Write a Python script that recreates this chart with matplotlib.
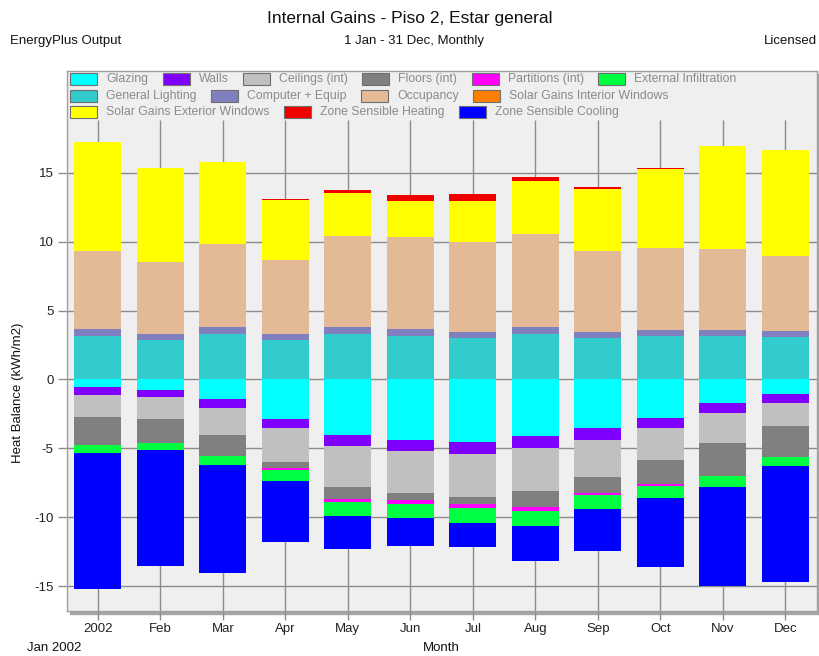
import matplotlib
matplotlib.use("Agg")
import matplotlib.pyplot as plt
from matplotlib.patches import Rectangle
import numpy as np

plt.rcParams['font.family'] = ['Liberation Sans', 'DejaVu Sans']

# ---- data (kWh/m2 per month) ----
months = ["2002", "Feb", "Mar", "Apr", "May", "Jun",
          "Jul", "Aug", "Sep", "Oct", "Nov", "Dec"]

glazing      = [-0.57, -0.76, -1.43, -2.86, -4.05, -4.36, -4.55, -4.09, -3.54, -2.77, -1.68, -1.07]
walls        = [-0.57, -0.49, -0.64, -0.68, -0.79, -0.82, -0.85, -0.87, -0.84, -0.77, -0.73, -0.66]
ceilings     = [-1.56, -1.59, -1.95, -2.44, -2.93, -3.07, -3.14, -3.10, -2.71, -2.29, -2.21, -1.64]
floors       = [-2.05, -1.78, -1.52, -0.41, -0.87, -0.51, -0.50, -1.16, -1.11, -1.77, -2.37, -2.27]
partitions   = [0.0, 0.0, 0.0, -0.15, -0.24, -0.26, -0.27, -0.29, -0.17, -0.12, 0.0, 0.0]
infiltration = [-0.58, -0.51, -0.68, -0.82, -0.99, -1.04, -1.11, -1.08, -0.99, -0.87, -0.78, -0.65]
lighting     = [3.17, 2.86, 3.30, 2.86, 3.30, 3.17, 3.03, 3.30, 3.03, 3.17, 3.17, 3.06]
equipment    = [0.47, 0.44, 0.48, 0.44, 0.48, 0.47, 0.43, 0.48, 0.43, 0.44, 0.44, 0.43]
occupancy    = [5.69, 5.19, 6.02, 5.36, 6.64, 6.71, 6.53, 6.74, 5.87, 5.94, 5.82, 5.46]
solar_int    = [0.0] * 12
solar_ext    = [7.90, 6.81, 5.94, 4.35, 3.07, 2.58, 2.94, 3.86, 4.47, 5.70, 7.51, 7.70]
heating      = [0.0, 0.0, 0.0, 0.10, 0.22, 0.42, 0.53, 0.29, 0.15, 0.10, 0.0, 0.0]
cooling      = [-9.85, -8.36, -7.78, -4.42, -2.41, -1.98, -1.74, -2.56, -3.09, -5.02, -7.22, -8.38]

labels = ["Glazing", "Walls", "Ceilings (int)", "Floors (int)", "Partitions (int)",
          "External Infiltration", "General Lighting", "Computer + Equip", "Occupancy",
          "Solar Gains Interior Windows", "Solar Gains Exterior Windows",
          "Zone Sensible Heating", "Zone Sensible Cooling"]
colors = ["#00ffff", "#8000ff", "#c0c0c0", "#808080", "#ff00ff", "#00ff40",
          "#33cccc", "#8080c0", "#e3ba95", "#ff8000", "#ffff00", "#ee0000", "#0000ff"]
values = [glazing, walls, ceilings, floors, partitions, infiltration, lighting,
          equipment, occupancy, solar_int, solar_ext, heating, cooling]

neg_order = [0, 1, 2, 3, 4, 5, 12]
pos_order = [6, 7, 8, 9, 10, 11]

# ---- figure in pixel terms ----
W, H = 819, 656
fig = plt.figure(figsize=(W / 100, H / 100), dpi=100)
fx = lambda px: px / W
fy = lambda py: 1 - py / H

left, right, top, bottom = 66.5, 816.7, 70.5, 610.5
ax = fig.add_axes([fx(left), fy(bottom), fx(right) - fx(left), fy(top) - fy(bottom)])
ax.set_facecolor("#efefef")

# drop shadow of the frame
fig.patches.append(Rectangle((fx(left + 3), fy(bottom + 3)), fx(right) - fx(left),
                             fy(top) - fy(bottom), transform=fig.transFigure,
                             color="#a6a6a6", zorder=-1))

x = np.arange(len(months))
grid_c = "#8c8c8c"
ax.set_xlim(-0.5, 11.5)
ax.set_ylim(-16.75, 22.4)

yticks = [-15, -10, -5, 0, 5, 10, 15]
for yy in yticks:
    ax.axhline(yy, color=grid_c, lw=1, zorder=1)
ax.vlines(x, -16.75, 18.8, color=grid_c, lw=1, zorder=1)

width = 0.75
base = np.zeros(12)
for i in pos_order:
    v = np.array(values[i])
    ax.bar(x, v, width, bottom=base, color=colors[i], lw=0, zorder=2)
    base = base + v
base = np.zeros(12)
for i in neg_order:
    v = np.array(values[i])
    ax.bar(x, v, width, bottom=base, color=colors[i], lw=0, zorder=2)
    base = base + v

ax.set_xticks(x)
ax.set_xticklabels(months)
ax.set_yticks(yticks)
ax.set_yticklabels([str(t) for t in yticks])
ax.tick_params(direction="out", length=6.8, width=1, color=grid_c, labelsize=9.5,
               labelcolor="#222222", pad=2.5)
for s in ax.spines.values():
    s.set_color("#a0a0a0")
    s.set_linewidth(1)

# ---- header / axis texts ----
fig.text(fx(410), fy(19), "Internal Gains - Piso 2, Estar general", ha="center", va="center",
         fontsize=12.5, color="#111111")
fig.text(fx(414), fy(41), "1 Jan - 31 Dec, Monthly", ha="center", va="center",
         fontsize=9.5, color="#111111")
fig.text(fx(10), fy(41), "EnergyPlus Output", ha="left", va="center", fontsize=9.5,
         color="#111111")
fig.text(fx(817), fy(41), "Licensed", ha="right", va="center", fontsize=9.5, color="#111111")
fig.text(fx(18), fy(393), "Heat Balance (kWh/m2)", rotation=90, ha="center", va="center",
         fontsize=9.5, color="#111111")
fig.text(fx(441), fy(648), "Month", ha="center", va="center", fontsize=9.5, color="#111111")
fig.text(fx(27), fy(648), "Jan 2002", ha="left", va="center", fontsize=9.5, color="#111111")

# ---- legend laid out as a flowing list, as in the original ----
renderer = fig.canvas.get_renderer()
rows = [[0, 1, 2, 3, 4, 5], [6, 7, 8, 9], [10, 11, 12]]
row_y = [79, 95.7, 111.7]
for r, items in enumerate(rows):
    xp = 70
    for i in items:
        fig.patches.append(Rectangle((fx(xp), fy(row_y[r] + 6)), 27 / W, 12 / H,
                                     transform=fig.transFigure, facecolor=colors[i],
                                     edgecolor="#6e6e6e", lw=0.8, zorder=5))
        t = fig.text(fx(xp + 36), fy(row_y[r]), labels[i], ha="left", va="center",
                     fontsize=8.8, color="#8a8a8a", zorder=5)
        w = t.get_window_extent(renderer).width
        xp = xp + 36 + w + 14.5

fig.savefig("out.png", dpi=100)
